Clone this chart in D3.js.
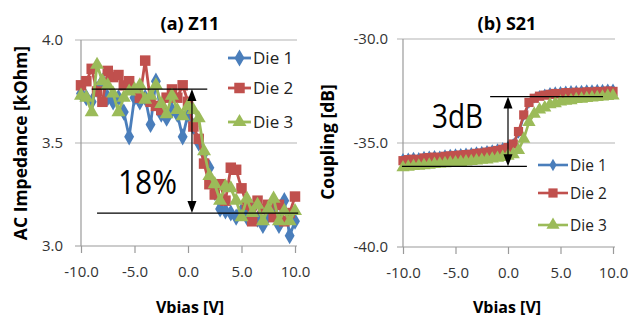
<!DOCTYPE html>
<html><head><meta charset="utf-8">
<script src="https://cdn.jsdelivr.net/npm/d3@7"></script>
<style>
body{margin:0;background:#fff;}
svg{display:block;font-family:"Open Sans",sans-serif;}
</style></head>
<body><svg id="c" width="639" height="322"></svg>
<script>
// ---------- data ----------
const vbias = [-10,-9.5,-9,-8.5,-8,-7.5,-7,-6.5,-6,-5.5,-5,-4.5,-4,-3.5,-3,-2.5,-2,-1.5,-1,-0.5,0,0.5,1,1.5,2,2.5,3,3.5,4,4.5,5,5.5,6,6.5,7,7.5,8,8.5,9,9.5,10];
const seriesNames = ["Die 1","Die 2","Die 3"];
const xTicks = [-10,-5,0,5,10];
const zTicks = [3.0,3.5,4.0];
const sTicks = [-40,-35,-30];

// (a) Z11, kOhm
const z11Die1 = [3.74,3.72,3.70,3.76,3.80,3.72,3.70,3.72,3.65,3.53,3.72,3.70,3.72,3.59,3.80,3.64,3.62,3.66,3.64,3.53,3.64,3.58,3.50,3.45,3.38,3.26,3.18,3.17,3.16,3.14,3.17,3.14,3.18,3.13,3.10,3.15,3.17,3.10,3.22,3.05,3.12];
const z11Die2 = [3.78,3.80,3.86,3.75,3.70,3.85,3.82,3.83,3.78,3.80,3.76,3.72,3.90,3.70,3.68,3.66,3.72,3.76,3.72,3.78,3.70,3.58,3.52,3.40,3.30,3.25,3.30,3.22,3.38,3.37,3.28,3.20,3.12,3.22,3.18,3.20,3.14,3.20,3.12,3.16,3.24];
const z11Die3 = [3.73,3.72,3.65,3.88,3.80,3.78,3.74,3.65,3.72,3.75,3.76,3.78,3.71,3.73,3.78,3.69,3.64,3.73,3.66,3.63,3.68,3.66,3.62,3.46,3.34,3.30,3.22,3.29,3.28,3.22,3.14,3.23,3.16,3.20,3.12,3.18,3.23,3.12,3.17,3.12,3.17];

// (b) S21, dB
const s21Die1 = [-35.72,-35.70,-35.66,-35.68,-35.62,-35.60,-35.58,-35.60,-35.54,-35.52,-35.50,-35.48,-35.46,-35.44,-35.40,-35.38,-35.34,-35.30,-35.26,-35.20,-35.14,-35.00,-34.55,-33.70,-33.10,-32.85,-32.70,-32.62,-32.55,-32.52,-32.50,-32.48,-32.46,-32.46,-32.44,-32.42,-32.42,-32.40,-32.40,-32.38,-32.38];
const s21Die2 = [-35.85,-35.80,-35.78,-35.80,-35.72,-35.70,-35.68,-35.70,-35.64,-35.62,-35.60,-35.58,-35.56,-35.54,-35.50,-35.48,-35.44,-35.40,-35.36,-35.30,-35.22,-35.05,-34.45,-33.65,-33.05,-32.85,-32.75,-32.70,-32.66,-32.62,-32.64,-32.58,-32.60,-32.56,-32.58,-32.54,-32.56,-32.52,-32.54,-32.50,-32.52];
const s21Die3 = [-36.18,-36.15,-36.12,-36.10,-36.08,-36.05,-36.02,-36.00,-35.98,-35.96,-35.94,-35.92,-35.90,-35.88,-35.85,-35.82,-35.80,-35.76,-35.72,-35.68,-35.62,-35.55,-35.35,-34.80,-34.00,-33.60,-33.40,-33.30,-33.15,-33.10,-33.02,-32.98,-32.95,-32.90,-32.88,-32.85,-32.82,-32.80,-32.78,-32.75,-32.72];

// annotations (data units)
const zAnnTop = 3.762, zAnnBottom = 3.16, zAnnX = 0.37, zAnnText = "18%";
const sAnnTop = -32.77, sAnnBottom = -36.12, sAnnX = 0.0, sAnnText = "3dB";

// ---------- drawing ----------
const colors = ["#4a7ebb","#c0504d","#9bbb59"];
const symbols = [d3.symbolDiamond, d3.symbolSquare, d3.symbolTriangle];
const svg = d3.select("#c");
const fmt = d => d.toFixed(1);
const gridColor = "#b4b4b4", axisColor = "#9a9a9a", tickText = "#333";

function panel(opt){
  const x = d3.scaleLinear().domain([-10,10]).range(opt.xr);
  const y = d3.scaleLinear().domain(opt.yd).range(opt.yr);
  const g = svg.append("g");
  const x0 = x(-10)-6, x1 = x(10)+2;
  opt.yt.forEach((t,i)=>{
    g.append("line").attr("x1",x0).attr("x2",x1).attr("y1",y(t)).attr("y2",y(t))
      .attr("stroke", i===0?axisColor:gridColor).attr("stroke-width",1.2);
  });
  g.append("line").attr("x1",x(-10)).attr("x2",x(-10)).attr("y1",y(opt.yd[1])).attr("y2",y(opt.yd[0]))
    .attr("stroke",axisColor).attr("stroke-width",1.2);
  const xa = g.append("g").attr("transform",`translate(0,${y(opt.yd[0])})`)
    .call(d3.axisBottom(x).tickValues(xTicks).tickFormat(fmt).tickSizeInner(7).tickSizeOuter(0).tickPadding(13));
  xa.select(".domain").remove();
  xa.selectAll("line").attr("stroke",axisColor).attr("stroke-width",1.2);
  xa.selectAll("text").attr("font-size",15).attr("fill",tickText).attr("font-family","Open Sans");
  opt.yt.forEach(t=>{
    g.append("text").attr("x",opt.ylx).attr("y",y(t)).attr("dy","0.36em").attr("text-anchor","end")
      .attr("font-size",15).attr("fill",tickText).text(fmt(t));
  });
  g.append("text").attr("x",opt.tx).attr("y",30).attr("text-anchor","middle")
    .attr("font-size",18).attr("font-weight","bold").text(opt.title);
  g.append("text").attr("x",opt.tx).attr("y",313).attr("text-anchor","middle")
    .attr("font-size",16).attr("font-weight","bold").text("Vbias [V]");
  g.append("text").attr("transform",`translate(${opt.ylabX},${opt.ylabY}) rotate(-90)`)
    .attr("text-anchor","middle").attr("font-size",opt.ylabSize).attr("font-weight","bold").text(opt.ylab);
  const line = d3.line().x((d,i)=>x(vbias[i])).y(d=>y(d));
  opt.data.forEach((s,k)=>{
    g.append("path").attr("d",line(s)).attr("fill","none").attr("stroke",colors[k])
      .attr("stroke-width",opt.lw).attr("stroke-linejoin","round");
    g.selectAll(null).data(s).enter().append("path")
      .attr("transform",(d,i)=>`translate(${x(vbias[i])},${y(d)})`)
      .attr("d",d3.symbol().type(symbols[k]).size(opt.ms[k])).attr("fill",colors[k]);
  });
  seriesNames.forEach((n,k)=>{
    const ly = opt.leg.y[k];
    g.append("line").attr("x1",opt.leg.x1).attr("x2",opt.leg.x2).attr("y1",ly).attr("y2",ly)
      .attr("stroke",colors[k]).attr("stroke-width",opt.leg.lw);
    g.append("path").attr("transform",`translate(${(opt.leg.x1+opt.leg.x2)/2},${ly})`)
      .attr("d",d3.symbol().type(symbols[k]).size(opt.leg.ms[k])).attr("fill",colors[k]);
    g.append("text").attr("x",opt.leg.x2+2).attr("y",ly).attr("dy","0.36em")
      .attr("font-size",opt.leg.fs).attr("fill","#222").text(n);
  });
  const a = opt.ann;
  g.append("line").attr("x1",x(a.t[0])).attr("x2",x(a.t[1])).attr("y1",y(a.top)).attr("y2",y(a.top))
    .attr("stroke","#000").attr("stroke-width",1.2);
  g.append("line").attr("x1",x(a.b[0])).attr("x2",x(a.b[1])).attr("y1",y(a.bottom)).attr("y2",y(a.bottom))
    .attr("stroke","#000").attr("stroke-width",1.2);
  const ax = x(a.x), yt = y(a.top), yb = y(a.bottom);
  g.append("line").attr("x1",ax).attr("x2",ax).attr("y1",yt+10).attr("y2",yb-10)
    .attr("stroke","#000").attr("stroke-width",1.2);
  g.append("path").attr("d",`M${ax},${yt} L${ax-4.5},${yt+12} L${ax+4.5},${yt+12} Z`).attr("fill","#000");
  g.append("path").attr("d",`M${ax},${yb} L${ax-4.5},${yb-12} L${ax+4.5},${yb-12} Z`).attr("fill","#000");
  g.append("text").attr("x",a.tx).attr("y",a.ty).attr("font-size",33).attr("fill","#000")
    .attr("textLength",a.tl).attr("lengthAdjust","spacingAndGlyphs").text(a.text);
}

panel({
  xr:[81,295], yd:[3,4], yr:[246,40], yt:zTicks, ylx:63, tx:190, title:"(a) Z11",
  ylab:"AC Impedance [kOhm]", ylabX:27, ylabY:143, ylabSize:17.5,
  data:[z11Die1,z11Die2,z11Die3], lw:2.8, ms:[85,110,85],
  leg:{x1:228,x2:251,y:[58,88,122],fs:17,lw:2.8,ms:[85,110,85]},
  ann:{top:zAnnTop,bottom:zAnnBottom,x:zAnnX,t:[-9.0,1.8],b:[-8.5,10.3],text:zAnnText,tx:118,ty:194,tl:59}
});
panel({
  xr:[403,613], yd:[-40,-30], yr:[247,39], yt:sTicks, ylx:388, tx:507, title:"(b) S21",
  ylab:"Coupling [dB]", ylabX:334, ylabY:142, ylabSize:17.5,
  data:[s21Die1,s21Die2,s21Die3], lw:2.6, ms:[30,85,75],
  leg:{x1:538,x2:568,y:[165,193,225],fs:15.5,lw:2.6,ms:[45,85,75]},
  ann:{top:sAnnTop,bottom:sAnnBottom,x:sAnnX,t:[-1.7,9.05],b:[-10.1,1.8],text:sAnnText,tx:432,ty:128,tl:51}
});
</script></body></html>
